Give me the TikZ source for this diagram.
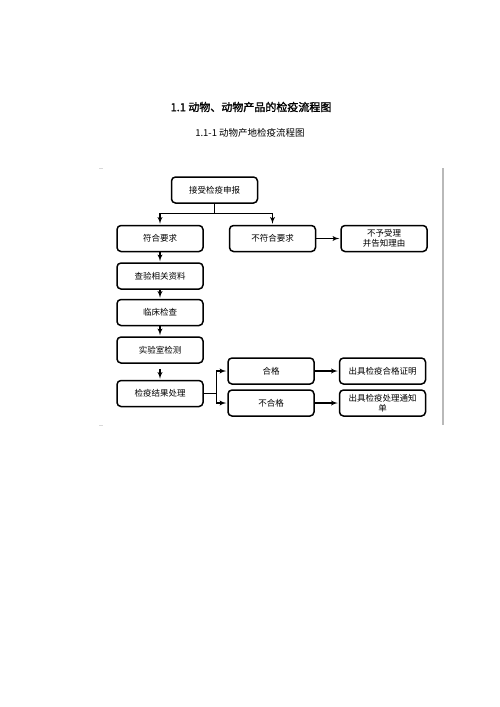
\documentclass[tikz,border=0pt]{standalone}
\usepackage{fontspec}
\usepackage{tikz}
\usetikzlibrary{arrows,positioning}
\newfontfamily\cjk[AutoFakeBold=1.5]{Noto Sans CJK SC}
\tikzset{
    flownode/.style={rectangle,rounded corners=4pt,draw=black,line width=1.5pt,minimum width=86pt,minimum height=26pt,inner sep=1pt,align=center,text centered,font=\cjk\fontsize{8.5}{10.5}\selectfont},
    myarrow/.style={->, >=latex', shorten >=1pt, line width=1.3pt},
    mytitle/.style={font=\cjk\bfseries\fontsize{11}{13}\selectfont}
}

\begin{document}
\begin{tikzpicture}[x=1pt,y=-1pt]
\useasboundingbox (0,0) rectangle (500,707);
\node[mytitle] (title) at (251,107) {1.1 动物、动物产品的检疫流程图};
\node[font=\cjk\fontsize{9.5}{11}\selectfont] (subtitle) at (250,133) {1.1-1 动物产地检疫流程图};

\draw[gray!55, line width=1.3pt] (443,168) -- (443,425);
\draw[gray!30, thin] (99,168) -- (103,168);
\draw[gray!30, thin] (99,425) -- (103,425);

\node[flownode] (apply) at (214.5,190) {接受检疫申报};
\node[flownode] (accept) at (160,238.5) {符合要求};
\node[flownode, right=25pt of accept] (refuse) {不符合要求};
\node[flownode, right=24pt of refuse] (reason) {不予受理\\并告知理由};

\node[flownode, below=10pt of accept] (docs) {查验相关资料};
\node[flownode, below=9pt of docs] (clinic) {临床检查};
\node[flownode, below=10pt of clinic] (lab) {实验室检测};
\node[flownode, below=16pt of lab] (result) {检疫结果处理};

\node[flownode] (pass) at (271,371) {合格};
\node[flownode] (fail) at (271,403) {不合格};
\node[flownode, right=24pt of pass] (cert) {出具检疫合格证明};
\node[flownode, right=24pt of fail] (notice) {出具检疫处理通知\\单};

\draw[myarrow] (apply.south) -- ++(0,10) -| (accept.north);
\draw[myarrow] (apply.south) -- ++(0,10) -| (refuse.north);
\draw[myarrow] (refuse) -- (reason);

\draw[myarrow] (accept) -- (docs);
\draw[myarrow] (docs) -- (clinic);
\draw[myarrow] (clinic) -- (lab);
\draw[myarrow, shorten <=5pt] (lab) -- (result);

\draw[myarrow] (result.east) -- ++(13,0) |- (pass.west);
\draw[myarrow] (result.east) -- ++(13,0) |- (fail.west);
\draw[myarrow] (pass) -- (cert);
\draw[myarrow] (fail) -- (notice);

\end{tikzpicture}
\end{document}
